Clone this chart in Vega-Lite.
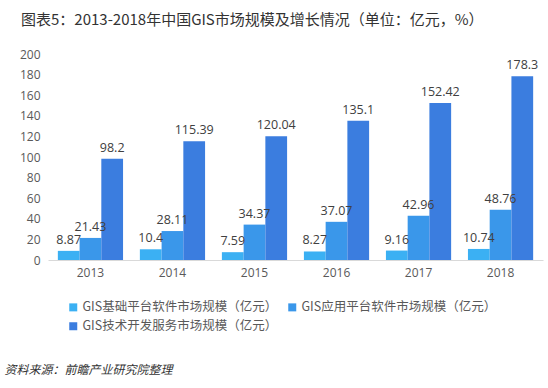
{
  "$schema": "https://vega.github.io/schema/vega-lite/v6.json",
  "autosize": "none",
  "width": 495,
  "height": 206,
  "padding": {"left": 48, "top": 54, "right": 5, "bottom": 128},
  "background": "white",
  "title": {
    "text": "图表5：2013-2018年中国GIS市场规模及增长情况（单位：亿元，%）",
    "anchor": "start",
    "frame": "group",
    "dx": -27,
    "offset": 20,
    "fontSize": 15,
    "fontWeight": "normal",
    "font": "Noto Sans CJK SC",
    "color": "#333333"
  },
  "data": {
    "values": [
      {"year": "2013", "series": "GIS基础平台软件市场规模（亿元）", "value": 8.87},
      {"year": "2013", "series": "GIS应用平台软件市场规模（亿元）", "value": 21.43},
      {"year": "2013", "series": "GIS技术开发服务市场规模（亿元）", "value": 98.2},
      {"year": "2014", "series": "GIS基础平台软件市场规模（亿元）", "value": 10.4},
      {"year": "2014", "series": "GIS应用平台软件市场规模（亿元）", "value": 28.11},
      {"year": "2014", "series": "GIS技术开发服务市场规模（亿元）", "value": 115.39},
      {"year": "2015", "series": "GIS基础平台软件市场规模（亿元）", "value": 7.59},
      {"year": "2015", "series": "GIS应用平台软件市场规模（亿元）", "value": 34.37},
      {"year": "2015", "series": "GIS技术开发服务市场规模（亿元）", "value": 120.04},
      {"year": "2016", "series": "GIS基础平台软件市场规模（亿元）", "value": 8.27},
      {"year": "2016", "series": "GIS应用平台软件市场规模（亿元）", "value": 37.07},
      {"year": "2016", "series": "GIS技术开发服务市场规模（亿元）", "value": 135.1},
      {"year": "2017", "series": "GIS基础平台软件市场规模（亿元）", "value": 9.16},
      {"year": "2017", "series": "GIS应用平台软件市场规模（亿元）", "value": 42.96},
      {"year": "2017", "series": "GIS技术开发服务市场规模（亿元）", "value": 152.42},
      {"year": "2018", "series": "GIS基础平台软件市场规模（亿元）", "value": 10.74},
      {"year": "2018", "series": "GIS应用平台软件市场规模（亿元）", "value": 48.76},
      {"year": "2018", "series": "GIS技术开发服务市场规模（亿元）", "value": 178.3}
    ]
  },
  "encoding": {
    "x": {
      "field": "year",
      "type": "nominal",
      "scale": {"paddingInner": 0.205, "paddingOuter": 0.12},
      "axis": {
        "labelAngle": 0,
        "labelFontSize": 12,
        "labelColor": "#595959",
        "labelFont": "Open Sans",
        "labelPadding": 7,
        "ticks": false,
        "domainColor": "#d9d9d9",
        "title": "资料来源：前瞻产业研究院整理",
        "titleFont": "Noto Sans CJK SC",
        "titleFontSize": 12,
        "titleFontStyle": "italic",
        "titleFontWeight": "normal",
        "titleColor": "#333333",
        "titleAnchor": "start",
        "titleAlign": "left",
        "titleX": -44,
        "titleY": 113,
        "titleBaseline": "alphabetic"
      }
    },
    "xOffset": {
      "field": "series",
      "type": "nominal",
      "sort": ["GIS基础平台软件市场规模（亿元）", "GIS应用平台软件市场规模（亿元）", "GIS技术开发服务市场规模（亿元）"],
      "scale": {"paddingInner": 0, "paddingOuter": 0}
    },
    "y": {
      "field": "value",
      "type": "quantitative",
      "scale": {"domain": [0, 200]},
      "axis": {
        "values": [0, 20, 40, 60, 80, 100, 120, 140, 160, 180, 200],
        "grid": false,
        "domain": false,
        "ticks": false,
        "labelFontSize": 12,
        "labelColor": "#595959",
        "labelFont": "Open Sans",
        "labelPadding": 8,
        "title": null
      }
    }
  },
  "layer": [
    {
      "mark": {"type": "bar"},
      "encoding": {
        "color": {
          "field": "series",
          "type": "nominal",
          "sort": ["GIS基础平台软件市场规模（亿元）", "GIS应用平台软件市场规模（亿元）", "GIS技术开发服务市场规模（亿元）"],
          "scale": {"range": ["#3bb0f3", "#3a97ea", "#3b7ddf"]},
          "legend": {
            "orient": "none",
            "legendX": 19,
            "legendY": 247,
            "direction": "horizontal",
            "columns": 2,
            "title": null,
            "symbolType": "square",
            "symbolSize": 64,
            "symbolStrokeWidth": 0,
            "labelFont": "Noto Sans CJK SC",
            "labelFontSize": 12.5,
            "labelColor": "#595959",
            "labelOffset": 3,
            "labelLimit": 300,
            "columnPadding": 8,
            "rowPadding": 6
          }
        }
      }
    },
    {
      "mark": {"type": "text", "baseline": "bottom", "dy": -4, "fontSize": 12.5, "font": "Open Sans", "color": "#404040"},
      "encoding": {
        "text": {"field": "value", "type": "quantitative"}
      }
    }
  ],
  "config": {
    "view": {"stroke": null}
  }
}
